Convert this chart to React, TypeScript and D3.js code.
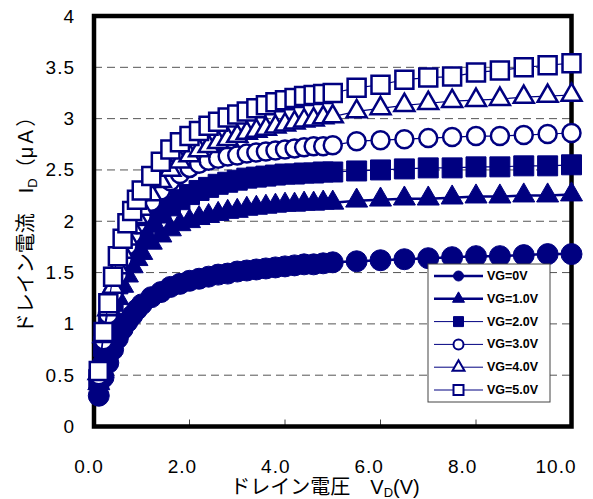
import React from 'react';
import * as d3 from 'd3';

const WIDTH = 593;
const HEIGHT = 499;
const NAVY = '#000080';
const NUM_FONT = '"Liberation Sans", Arial, sans-serif';
const JP_FONT = '"Liberation Sans", "Noto Sans CJK JP", sans-serif';

// drain voltage (V)
const VD = [0.1, 0.2, 0.3, 0.4, 0.5, 0.6, 0.7, 0.8, 0.9, 1.0,
  1.2, 1.4, 1.6, 1.8, 2.0, 2.2, 2.4, 2.6, 2.8, 3.0,
  3.2, 3.4, 3.6, 3.8, 4.0, 4.2, 4.4, 4.6, 4.8, 5.0,
  5.5, 6.0, 6.5, 7.0, 7.5, 8.0, 8.5, 9.0, 9.5, 10.0];

// drain current (uA) per gate voltage
const ID_VG0 = [0.30, 0.48, 0.62, 0.75, 0.86, 0.95, 1.02, 1.08, 1.14, 1.19,
  1.26, 1.31, 1.36, 1.39, 1.42, 1.44, 1.46, 1.48, 1.49, 1.51,
  1.52, 1.53, 1.54, 1.55, 1.56, 1.57, 1.58, 1.58, 1.59, 1.60,
  1.61, 1.62, 1.63, 1.64, 1.65, 1.66, 1.66, 1.67, 1.68, 1.68];
const ID_VG1 = [0.42, 0.70, 0.92, 1.10, 1.25, 1.37, 1.47, 1.56, 1.63, 1.69,
  1.79, 1.86, 1.92, 1.97, 2.00, 2.03, 2.05, 2.07, 2.09, 2.10,
  2.12, 2.13, 2.14, 2.15, 2.16, 2.16, 2.17, 2.17, 2.18, 2.18,
  2.20, 2.21, 2.22, 2.22, 2.23, 2.24, 2.24, 2.25, 2.25, 2.26];
const ID_VG2 = [0.46, 0.78, 1.02, 1.22, 1.39, 1.52, 1.63, 1.73, 1.81, 1.88,
  1.99, 2.08, 2.15, 2.21, 2.26, 2.30, 2.33, 2.36, 2.38, 2.40,
  2.42, 2.43, 2.44, 2.45, 2.46, 2.46, 2.47, 2.47, 2.48, 2.48,
  2.49, 2.50, 2.51, 2.52, 2.52, 2.53, 2.53, 2.54, 2.54, 2.55];
const ID_VG3 = [0.50, 0.84, 1.09, 1.30, 1.48, 1.63, 1.76, 1.87, 1.97, 2.05,
  2.19, 2.30, 2.39, 2.46, 2.52, 2.56, 2.59, 2.61, 2.63, 2.64,
  2.66, 2.67, 2.68, 2.69, 2.70, 2.71, 2.72, 2.73, 2.73, 2.74,
  2.78, 2.79, 2.80, 2.81, 2.82, 2.83, 2.83, 2.84, 2.85, 2.86];
const ID_VG4 = [0.52, 0.88, 1.14, 1.36, 1.55, 1.70, 1.83, 1.94, 2.04, 2.12,
  2.26, 2.39, 2.50, 2.58, 2.64, 2.69, 2.73, 2.77, 2.80, 2.83,
  2.86, 2.88, 2.90, 2.92, 2.94, 2.96, 2.98, 2.99, 3.01, 3.02,
  3.07, 3.10, 3.13, 3.15, 3.17, 3.18, 3.19, 3.21, 3.22, 3.23];
const ID_VG5 = [0.54, 0.92, 1.20, 1.46, 1.66, 1.83, 1.98, 2.10, 2.21, 2.30,
  2.44, 2.58, 2.70, 2.77, 2.83, 2.88, 2.93, 2.97, 3.01, 3.04,
  3.07, 3.10, 3.13, 3.16, 3.18, 3.20, 3.22, 3.23, 3.24, 3.25,
  3.30, 3.33, 3.38, 3.40, 3.41, 3.45, 3.47, 3.50, 3.52, 3.54];

const VG_LABELS = ['VG=0V', 'VG=1.0V', 'VG=2.0V', 'VG=3.0V', 'VG=4.0V', 'VG=5.0V'];
const X_TICKS = [0, 2, 4, 6, 8, 10];
const Y_TICKS = [0, 0.5, 1, 1.5, 2, 2.5, 3, 3.5, 4];

type Kind = 'circle' | 'triangle' | 'square';

const SERIES: { values: number[]; kind: Kind; filled: boolean; lineW: number }[] = [
  { values: ID_VG0, kind: 'circle', filled: true, lineW: 2.5 },
  { values: ID_VG1, kind: 'triangle', filled: true, lineW: 2.5 },
  { values: ID_VG2, kind: 'square', filled: true, lineW: 1.2 },
  { values: ID_VG3, kind: 'circle', filled: false, lineW: 1.2 },
  { values: ID_VG4, kind: 'triangle', filled: false, lineW: 1.2 },
  { values: ID_VG5, kind: 'square', filled: false, lineW: 1.2 },
];

const symType = (k: Kind) =>
  k === 'circle' ? d3.symbolCircle : k === 'triangle' ? d3.symbolTriangle : d3.symbolSquare;

// symbol area for the plot markers
const bigSize = (k: Kind, filled: boolean) => {
  if (k === 'circle') return filled ? Math.PI * 10.5 * 10.5 : Math.PI * 9 * 9;
  if (k === 'square') return filled ? 20 * 20 : 18 * 18;
  const s = filled ? 22 : 20;
  return (s * s * Math.sqrt(3)) / 4;
};
const smallSize = (k: Kind) => {
  if (k === 'circle') return Math.PI * 5 * 5;
  if (k === 'square') return 10 * 10;
  return (12 * 12 * Math.sqrt(3)) / 4;
};

export default function App() {
  const x = d3.scaleLinear().domain([0, 10]).range([94, 571.5]);
  const y = d3.scaleLinear().domain([0, 4]).range([426.5, 16]);
  const xLab = d3.scaleLinear().domain([0, 10]).range([89, 556]);
  const legendY = d3.scaleLinear().domain([0, 5]).range([276, 390]);

  const line = d3.line<number>()
    .x((d, i) => x(VD[i]))
    .y((d) => y(d));

  return (
    <svg width={WIDTH} height={HEIGHT} style={{ position: 'absolute', left: 0, top: 0, background: '#fff' }}>
      {/* dashed grid */}
      {Y_TICKS.filter((t) => t > 0 && t < 4).map((t) => (
        <line key={t} x1={x(0)} x2={x(10)} y1={y(t)} y2={y(t)}
          stroke="#555" strokeWidth={1} strokeDasharray="8 5" />
      ))}
      {X_TICKS.filter((t) => t > 0 && t < 10).map((t) => (
        <line key={t} x1={x(t)} x2={x(t)} y1={y(0)} y2={y(0) - 7} stroke="#444" strokeWidth={1} />
      ))}
      <rect x={x(0)} y={y(4)} width={x(10) - x(0)} height={y(0) - y(4)}
        fill="none" stroke="#000" strokeWidth={4.5} />

      {/* tick labels */}
      {Y_TICKS.map((t) => (
        <text key={t} x={75} y={y(t)} textAnchor="end" dominantBaseline="central"
          fontFamily={NUM_FONT} fontSize={19} letterSpacing={1} fill="#000">{String(t)}</text>
      ))}
      {X_TICKS.map((t) => (
        <text key={t} x={xLab(t)} y={473} textAnchor="middle"
          fontFamily={NUM_FONT} fontSize={19} letterSpacing={1} fill="#000">{t.toFixed(1)}</text>
      ))}

      {/* axis titles */}
      <text x={325} y={494} textAnchor="middle" fontFamily={JP_FONT} fontSize={20} fill="#000">
        ドレイン電圧　V<tspan fontSize={13} dy={3}>D</tspan><tspan dy={-3}>(V)</tspan>
      </text>
      <text transform="translate(33,220) rotate(-90)" textAnchor="middle" fontFamily={JP_FONT} fontSize={20} fill="#000">
        ドレイン電流　I<tspan fontSize={13} dy={4}>D</tspan><tspan dy={-4}>（μＡ）</tspan>
      </text>

      {/* series */}
      {SERIES.map((s, si) => (
        <g key={si}>
          <path d={line(s.values) ?? ''} fill="none" stroke={NAVY} strokeWidth={s.lineW} />
          {s.values.map((v, i) => (
            <path key={i} transform={`translate(${x(VD[i])},${y(v)})`}
              d={d3.symbol().type(symType(s.kind)).size(bigSize(s.kind, s.filled))() ?? ''}
              fill={s.filled ? NAVY : '#fff'} stroke={NAVY} strokeWidth={s.filled ? 1 : 2.5} />
          ))}
        </g>
      ))}

      {/* legend */}
      <rect x={428} y={264} width={122} height={138} fill="#fff" stroke="#444" strokeWidth={1} />
      {SERIES.map((s, i) => (
        <g key={i} transform={`translate(0,${legendY(i)})`}>
          <line x1={434} x2={483} y1={0} y2={0} stroke={NAVY} strokeWidth={i < 2 ? 2.5 : 1} />
          <path transform="translate(458.5,0)"
            d={d3.symbol().type(symType(s.kind)).size(smallSize(s.kind))() ?? ''}
            fill={s.filled ? NAVY : '#fff'} stroke={NAVY} strokeWidth={s.filled ? 1 : 2} />
          <text x={487} y={0} dominantBaseline="central" fontFamily={NUM_FONT}
            fontWeight="bold" fontSize={12.5} fill="#000">{VG_LABELS[i]}</text>
        </g>
      ))}
    </svg>
  );
}
